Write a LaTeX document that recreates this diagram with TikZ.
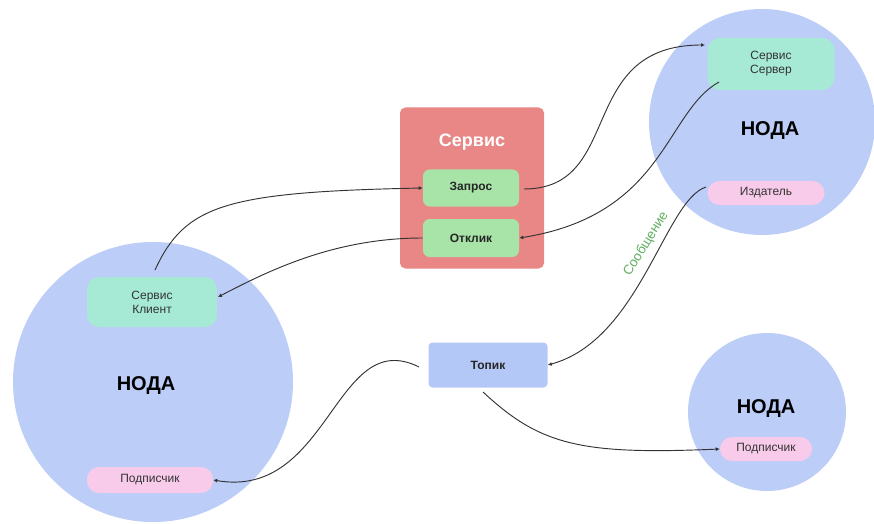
\documentclass[tikz,border=0pt]{standalone}
\usepackage{fontspec}
\setmainfont{Liberation Sans}
\usetikzlibrary{arrows.meta}
\definecolor{nodeblue}{HTML}{BCCDF8}
\definecolor{topicblue}{HTML}{B3C8F6}
\definecolor{srvred}{HTML}{E98686}
\definecolor{boxgreen}{HTML}{A8E4A8}
\definecolor{mint}{HTML}{A6EAD6}
\definecolor{pinkp}{HTML}{F8CBEA}
\definecolor{msggreen}{HTML}{5FAE5F}
\definecolor{linegray}{HTML}{333333}
\tikzset{
  ncircle/.style={circle,fill=nodeblue,draw=none,inner sep=0pt},
  nodelabel/.style={font=\fontsize{15}{16}\selectfont\bfseries,text=black},
  pill/.style={rounded corners=9pt,draw=none,font=\fontsize{9}{10.5}\selectfont,text=black!80,align=center,inner sep=0pt},
  gbox/.style={rounded corners=5pt,fill=boxgreen,draw=none,font=\fontsize{9}{10}\selectfont\bfseries,text=black!85},
  conn/.style={draw=linegray,line width=0.7pt,-{Latex[length=3pt,width=3pt]}},
}
\begin{document}
\begin{tikzpicture}[x=0.75pt,y=-0.75pt]
\useasboundingbox (0,0) rectangle (874,524);
% circles
\node[ncircle,minimum size=280*0.75pt] (leftnode) at (153,382) {};
\node[ncircle,minimum size=226*0.75pt] (trnode) at (762,122) {};
\node[ncircle,minimum size=158*0.75pt] (brnode) at (767,412) {};
\node[nodelabel] (leftlbl) at (146,386) {НОДА};
\node[nodelabel] (trlbl) at (770,131) {НОДА};
\node[nodelabel] (brlbl) at (766,409) {НОДА};
% service box
\node[fill=srvred,rounded corners=4pt,minimum width=144*0.75pt,minimum height=161*0.75pt,draw=none] (srv) at (472,188) {};
\node[font=\fontsize{13.5}{14}\selectfont\bfseries,text=white] (srvtitle) at (472,142) {Сервис};
\node[gbox,minimum width=96*0.75pt,minimum height=37*0.75pt] (zap) at (471,188) {Запрос};
\node[gbox,minimum width=96*0.75pt,minimum height=38*0.75pt] (otk) at (471,238) {Отклик};
% pills
\node[pill,fill=mint,minimum width=127*0.75pt,minimum height=52*0.75pt] (server) at (771,64) {Сервис\\Сервер};
\node[pill,fill=pinkp,minimum width=117*0.75pt,minimum height=24*0.75pt] (pub) at (766,193) {Издатель};
\node[pill,fill=mint,minimum width=130*0.75pt,minimum height=50*0.75pt] (client) at (152,302) {Сервис\\Клиент};
\node[pill,fill=pinkp,minimum width=126*0.75pt,minimum height=26*0.75pt] (subl) at (150,480) {Подписчик};
\node[pill,fill=pinkp,minimum width=92*0.75pt,minimum height=24*0.75pt] (subr) at (766,449) {Подписчик};
% topic
\node[fill=topicblue,rounded corners=3pt,minimum width=119*0.75pt,minimum height=45*0.75pt,font=\fontsize{9}{10}\selectfont\bfseries,text=black!85] (topic) at (488,365) {Топик};
% connectors
\coordinate (c1s) at (155,270);
\draw[conn] (c1s) .. controls (185,205) and (225,192) .. (zap.west);
\coordinate (c2s) at (524,189);
\coordinate (c2e) at (705,45);
\draw[conn] (c2s) .. controls (625,189) and (575,45) .. (c2e);
\coordinate (c3s) at (719,82);
\draw[conn] (c3s) .. controls (665,112) and (665,215) .. (otk.east);
\coordinate (c4e) at (218,297);
\draw[conn] (otk.west) .. controls (335,238) and (270,270) .. (c4e);
\coordinate (c5s) at (706,187);
\draw[conn] (c5s) .. controls (665,200) and (640,340) .. (topic.east);
\node[font=\fontsize{10}{11}\selectfont,text=msggreen,rotate=58] (msg) at (646,244) {Сообщение};
\coordinate (c6s) at (419,367);
\draw[conn] (c6s) .. controls (335,325) and (330,500) .. (subl.east);
\coordinate (c7s) at (483,392);
\draw[conn] (c7s) .. controls (540,445) and (580,455) .. (subr.west);
\end{tikzpicture}
\end{document}
